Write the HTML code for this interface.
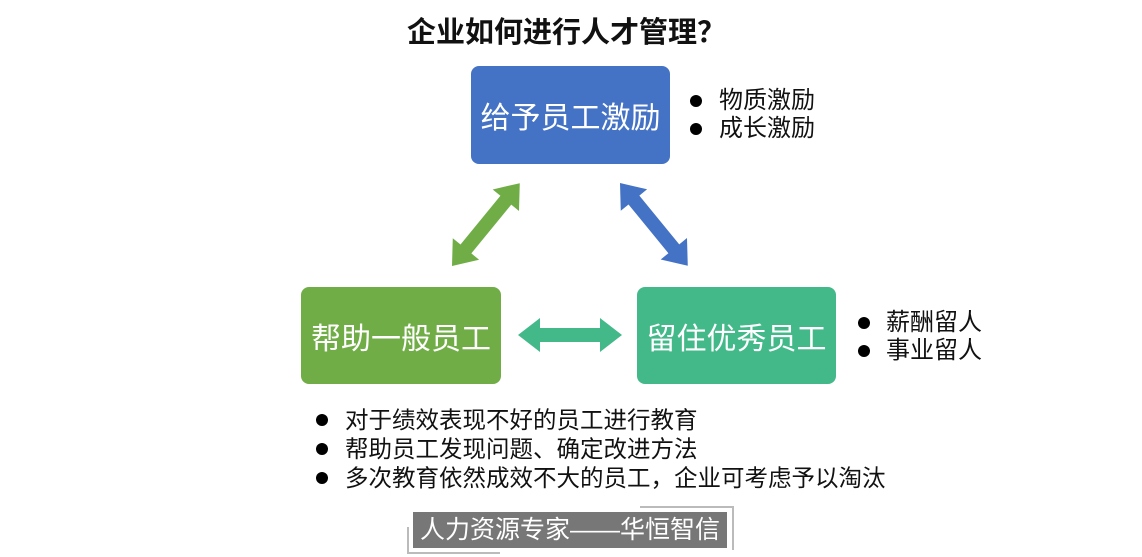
<!DOCTYPE html>
<html><head><meta charset="utf-8"><style>
body{margin:0;width:1142px;height:557px;background:#fff;position:relative;overflow:hidden;font-family:"Liberation Sans","Noto Sans CJK SC",sans-serif;}
.a{position:absolute;white-space:nowrap;}
.box{position:absolute;border-radius:8px;color:#fff;font-size:30px;display:flex;align-items:center;justify-content:center;}
.dot{position:absolute;width:12px;height:12px;border-radius:50%;background:#000;}
.t{position:absolute;font-size:23.5px;color:#111;white-space:nowrap;line-height:28px;}
.r{font-size:24px;}
</style></head><body>
<div class="a" style="left:407px;top:9px;font-size:29px;font-weight:bold;color:#111;">企业如何进行人才管理？</div>
<div class="box" style="left:471px;top:66px;width:199px;height:98px;background:#4472c4;">给予员工激励</div>
<div class="box" style="left:301px;top:287px;width:200px;height:97px;background:#70ad47;">帮助一般员工</div>
<div class="box" style="left:637px;top:287px;width:199px;height:97px;background:#43b98a;">留住优秀员工</div>
<svg width="1142" height="557" style="position:absolute;left:0;top:0">
<defs><polygon id="ar" points="0,0 22,-17 22,-7 85,-7 85,-17 107,0 85,17 85,7 22,7 22,17"/></defs>
<use href="#ar" fill="#70ad47" transform="translate(452,266) rotate(-50.7)"/>
<use href="#ar" fill="#4472c4" transform="translate(620,183) rotate(50.7)"/>
<polygon fill="#43b98a" points="518,335 540,318 540,328 600,328 600,318 622,335 600,352 600,342 540,342 540,352"/>
<polyline points="640,507 733,507 733,550" fill="none" stroke="#bbb" stroke-width="2"/>
<polyline points="408,527 408,553 500,553" fill="none" stroke="#bbb" stroke-width="2"/>
</svg>
<div class="dot" style="left:690px;top:95px"></div><div class="t r" style="left:719px;top:87px">物质激励</div>
<div class="dot" style="left:690px;top:123px"></div><div class="t r" style="left:719px;top:115px">成长激励</div>
<div class="dot" style="left:858px;top:317px"></div><div class="t r" style="left:886px;top:309px">薪酬留人</div>
<div class="dot" style="left:858px;top:345px"></div><div class="t r" style="left:886px;top:337px">事业留人</div>
<div class="dot" style="left:316px;top:414px"></div><div class="t" style="left:345px;top:406px">对于绩效表现不好的员工进行教育</div>
<div class="dot" style="left:316px;top:443px"></div><div class="t" style="left:345px;top:435px">帮助员工发现问题、确定改进方法</div>
<div class="dot" style="left:316px;top:472px"></div><div class="t" style="left:345px;top:464px">多次教育依然成效不大的员工，企业可考虑予以淘汰</div>
<div class="a" style="left:413px;top:512px;width:314px;height:36px;background:#777;color:#fff;font-size:25px;line-height:36px;text-align:center;">人力资源专家——华恒智信</div>
</body></html>
